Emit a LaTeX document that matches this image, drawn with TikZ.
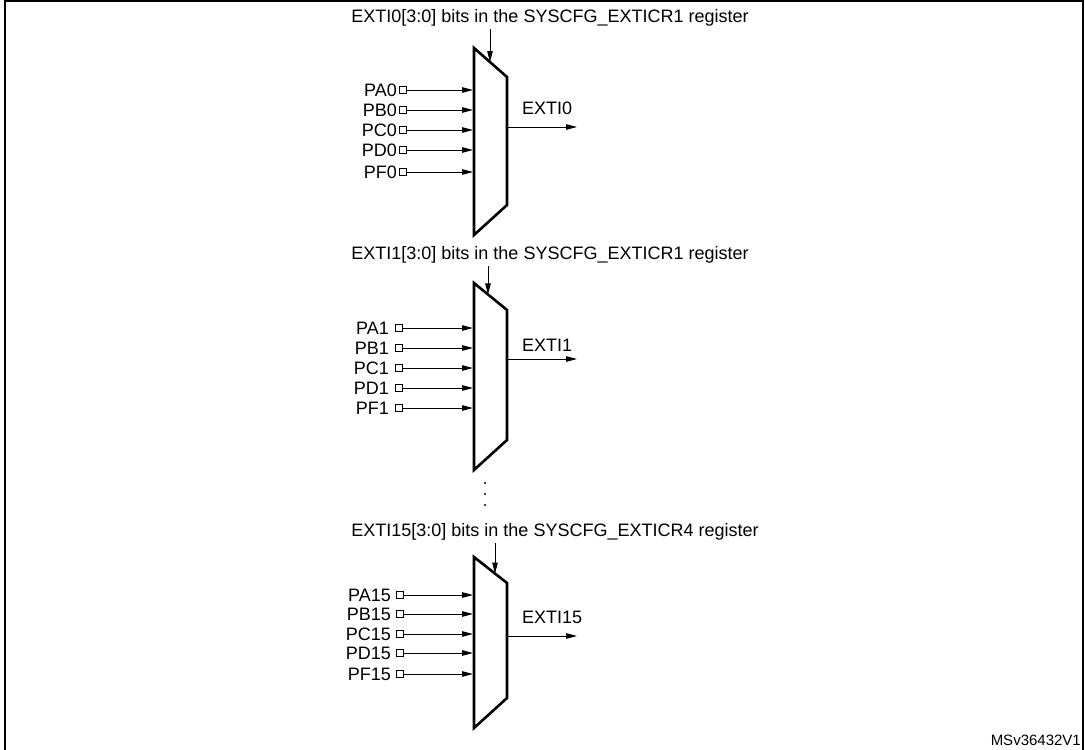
\documentclass[tikz,border=0pt]{standalone}
\usepackage{fontspec}
\setmainfont{Liberation Sans}
\usetikzlibrary{arrows.meta}
\begin{document}
\begin{tikzpicture}[x=1pt,y=-1pt,
  txt/.style={inner sep=0pt,font=\fontsize{18}{18}\selectfont},
  pin/.style={draw,line width=0.8pt,minimum size=7.5pt,inner sep=0pt},
  arr/.style={line width=0.9pt,-{Triangle[length=11pt,width=5.5pt]}},
  mux/.style={line width=2.6pt,line join=miter}]
\useasboundingbox (0,0) rectangle (1085,750);
\draw[line width=1.6pt] (5,750) -- (5,1) -- (1083,1) -- (1083,750);
\node[txt,anchor=south east] (id) at (1081,746) {\fontsize{15}{15}\selectfont MSv36432V1};
% generic mux: #1 name, #2 title, #3 title y, #4 title x, #5 top-left y, #6 top-right y, #7 bot-right y, #8 bot-left y, #9 ctrl x
\newcommand\mymux[9]{%
  \coordinate (#1tl) at (474,#5); \coordinate (#1tr) at (507,#6);
  \coordinate (#1br) at (507,#7); \coordinate (#1bl) at (474,#8);
  \draw[mux] (#1tl) -- (#1tr) -- (#1br) -- (#1bl) -- cycle;
  \node[txt] (#1t) at (#4,#3) {#2};
  \coordinate (#1c) at (#9,{#3+11});
  \coordinate (#1ce) at (#9,{#5+(#6-#5)*(#9-474)/33});
  \draw[arr] (#1c) -- (#1ce);
}
\mymux{a}{EXTI0[3:0] bits in the SYSCFG\_EXTICR1 register}{18}{550}{48}{77}{205}{235}{490}
\mymux{b}{EXTI1[3:0] bits in the SYSCFG\_EXTICR1 register}{255}{550}{283}{310}{440}{470}{488}
\mymux{c}{EXTI15[3:0] bits in the SYSCFG\_EXTICR4 register}{532}{555}{557}{583}{698}{728}{495}
% outputs
\coordinate (ao) at (577,127); \draw[arr] (507,127) -- (ao);
\coordinate (bo) at (577,359); \draw[arr] (507,359) -- (bo);
\coordinate (co) at (577,636); \draw[arr] (507,636) -- (co);
\node[txt,anchor=west] (al) at (522,108) {EXTI0};
\node[txt,anchor=west] (bl) at (522,345) {EXTI1};
\node[txt,anchor=west] (cl) at (522,617) {EXTI15};
% inputs
\foreach \n/\y in {PA0/90,PB0/110,PC0/130,PD0/150,PF0/172}{
  \node[pin] (s\n) at (403,\y) {};
  \node[txt,anchor=east] (l\n) at (397,\y) {\n};
  \coordinate (e\n) at (473,\y);
  \draw[arr] (s\n) -- (e\n);}
\foreach \n/\y in {PA1/328,PB1/348,PC1/368,PD1/388,PF1/408}{
  \node[pin] (s\n) at (399,\y) {};
  \node[txt,anchor=east] (l\n) at (389,\y) {\n};
  \coordinate (e\n) at (473,\y);
  \draw[arr] (s\n) -- (e\n);}
\foreach \n/\y in {PA15/595,PB15/614,PC15/634,PD15/653,PF15/674}{
  \node[pin] (s\n) at (400,\y) {};
  \node[txt,anchor=east] (l\n) at (391,\y) {\n};
  \coordinate (e\n) at (473,\y);
  \draw[arr] (s\n) -- (e\n);}
\foreach \y in {483,494,505} \fill (485,\y) circle (1.1pt);
\end{tikzpicture}
\end{document}
